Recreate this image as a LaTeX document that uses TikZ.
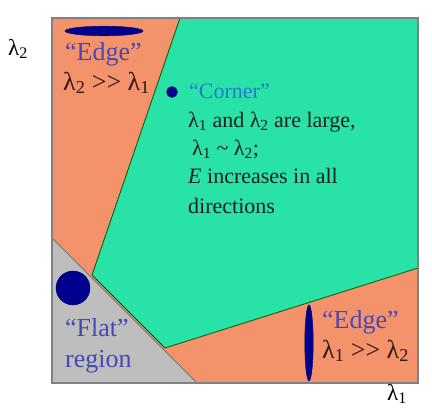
\documentclass[tikz,border=0pt]{standalone}
\usepackage{fontspec}
\setmainfont{Liberation Serif}

\definecolor{flatgray}{RGB}{190,190,190}
\definecolor{edgeorange}{RGB}{244,146,108}
\definecolor{cornergreen}{RGB}{40,226,168}
\definecolor{blobblue}{RGB}{0,0,140}
\definecolor{namedblue}{RGB}{72,72,180}
\definecolor{cornerblue}{RGB}{40,120,210}
\definecolor{lamtext}{RGB}{45,22,12}

\tikzset{
  regionname/.style={anchor=base west, inner sep=0pt, text=namedblue,
    font=\fontsize{26}{30}\selectfont},
  regionmath/.style={anchor=base west, inner sep=0pt, text=lamtext,
    font=\fontsize{26}{30}\selectfont},
  cornerline/.style={anchor=base west, inner sep=0pt, text=black!88,
    font=\fontsize{22}{26}\selectfont},
  axislabel/.style={anchor=base west, inner sep=0pt, text=black,
    font=\fontsize{23}{27}\selectfont},
  blob/.style={fill=blobblue, draw=blobblue!70!black}
}

\begin{document}
\begin{tikzpicture}[x=1pt,y=-1pt]
  \useasboundingbox (0,0) rectangle (432,416);
  \coordinate (sw) at (52,383);
  \coordinate (ne) at (418,18);
  \coordinate (g1) at (180,18);
  \coordinate (g2) at (418,268);
  \coordinate (g3) at (165,348);
  \coordinate (g4) at (92,275);
  \coordinate (f1) at (52,238);
  \coordinate (f2) at (197,383);

  \fill[edgeorange] (sw) rectangle (ne);
  \fill[cornergreen] (g1) -- (ne) -- (g2) -- (g3) -- (g4) -- cycle;
  \draw[green!35!black, line width=0.8pt] (g2) -- (g3) -- (g4) -- (g1);
  \fill[flatgray] (f1) -- (sw) -- (f2) -- cycle;
  \draw[black!55, line width=0.8pt] (f1) -- (f2);
  \draw[black!50, line width=1.2pt] (sw) rectangle (ne);

  \fill[blob] (104,31) ellipse [x radius=39, y radius=4.8];
  \fill[blob] (73,288) circle [radius=17];
  \fill[blob] (309,343) ellipse [x radius=4.2, y radius=38];
  \fill[blob] (172,92) circle [radius=5.5];

  \node[regionname] (edgetop) at (65,60) {“Edge”};
  \node[regionmath] (edgetoprel) at (63,90) {λ\textsubscript{2} >{}> λ\textsubscript{1}};
  \node[regionname, text=cornerblue, font=\fontsize{22}{26}\selectfont] (corner) at (189,98) {“Corner”};
  \node[cornerline] (cornerl1) at (188,127) {λ\textsubscript{1} and λ\textsubscript{2} are large,};
  \node[cornerline] (cornerl2) at (192,155) {λ\textsubscript{1} \textasciitilde{} λ\textsubscript{2};};
  \node[cornerline] (cornerl3) at (188,183) {\textit{E} increases in all};
  \node[cornerline] (cornerl4) at (188,213) {directions};
  \node[regionname] (flat) at (65,336) {“Flat”};
  \node[regionname] (flatregion) at (65,367) {region};
  \node[regionname] (edgebot) at (322,328) {“Edge”};
  \node[regionmath] (edgebotrel) at (322,358) {λ\textsubscript{1} >{}> λ\textsubscript{2}};
  \node[axislabel] (lamtwo) at (8,55) {λ\textsubscript{2}};
  \node[axislabel] (lamone) at (387,400) {λ\textsubscript{1}};
\end{tikzpicture}
\end{document}
